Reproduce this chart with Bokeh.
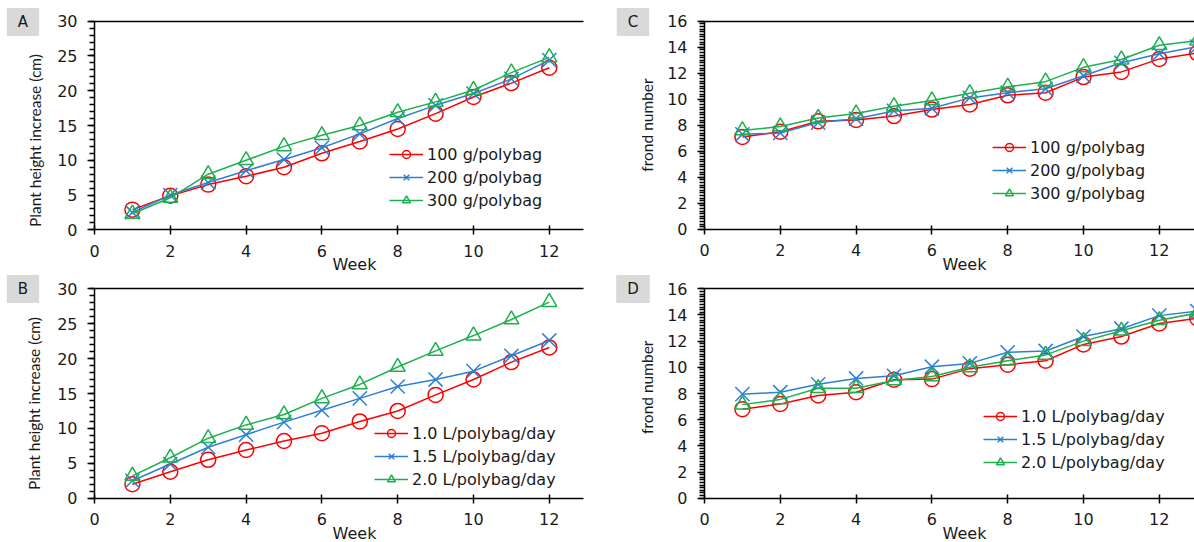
import math
from bokeh.plotting import figure
from bokeh.layouts import column, row
from bokeh.models import (LinearAxis, FixedTicker, Label, Legend, LegendItem, Range1d,
                          ColumnDataSource)
from bokeh.embed import file_html
from bokeh.resources import INLINE

# ---------------- data ----------------
weeks_ab = [1, 2, 3, 4, 5, 6, 7, 8, 9, 10, 11, 12]
weeks_cd = [1, 2, 3, 4, 5, 6, 7, 8, 9, 10, 11, 12, 13]

labels_dose = ["100 g/polybag", "200 g/polybag", "300 g/polybag"]
labels_water = ["1.0 L/polybag/day", "1.5 L/polybag/day", "2.0 L/polybag/day"]

# Panel A: plant height increase (cm) by fertilizer dose
a_100 = [2.9, 4.9, 6.5, 7.7, 9.0, 11.0, 12.7, 14.5, 16.7, 19.1, 21.1, 23.3]
a_200 = [2.5, 5.0, 6.8, 8.5, 10.1, 11.8, 13.8, 16.0, 17.9, 19.6, 21.7, 24.4]
a_300 = [2.3, 4.6, 8.0, 10.0, 12.0, 13.6, 15.0, 16.9, 18.4, 20.1, 22.6, 24.8]

# Panel B: plant height increase (cm) by watering volume
b_10 = [2.0, 3.8, 5.5, 6.9, 8.2, 9.3, 11.0, 12.5, 14.8, 17.0, 19.5, 21.6]
b_15 = [2.5, 4.9, 7.3, 9.1, 10.9, 12.6, 14.3, 16.0, 17.0, 18.2, 20.4, 22.6]
b_20 = [3.2, 5.8, 8.6, 10.5, 12.0, 14.3, 16.3, 18.8, 21.1, 23.3, 25.6, 28.1]

# Panel C: frond number by fertilizer dose
c_100 = [7.1, 7.5, 8.3, 8.4, 8.7, 9.2, 9.6, 10.3, 10.5, 11.7, 12.1, 13.1, 13.55]
c_200 = [7.3, 7.4, 8.2, 8.5, 9.1, 9.3, 10.1, 10.5, 10.8, 11.8, 12.8, 13.5, 14.05]
c_300 = [7.6, 7.9, 8.55, 8.9, 9.45, 9.9, 10.45, 10.95, 11.35, 12.45, 13.05, 14.15, 14.5]

# Panel D: frond number by watering volume
d_10 = [6.8, 7.2, 7.85, 8.1, 9.05, 9.1, 9.9, 10.2, 10.5, 11.75, 12.35, 13.35, 13.75]
d_15 = [7.95, 8.1, 8.7, 9.15, 9.35, 10.05, 10.3, 11.15, 11.25, 12.35, 12.95, 13.95, 14.3]
d_20 = [7.15, 7.55, 8.4, 8.4, 9.0, 9.3, 10.0, 10.5, 10.95, 12.0, 12.8, 13.6, 14.15]

x_ticks = [0, 2, 4, 6, 8, 10, 12]
height_ticks = [0, 5, 10, 15, 20, 25, 30]
frond_ticks = [0, 2, 4, 6, 8, 10, 12, 14, 16]

# ---------------- styles ----------------
COLORS = ["#FF0000", "#2C80D3", "#1DB04E"]
MARKERS = ["circle", "x", "triangle"]
MSIZE = [15, 20, 15]
TICK_FONT = "DejaVu Sans"
TITLE_FONT = "Lato"
TXT = "#1a1a1a"
X_PX = 37.9  # pixels per week


def make_panel(letter, ytitle, ymax, yticks, yminor_step, weeks, series, labels,
               fig_x, fig_y, fig_w, fig_h, x0_px, y0_px, ytop_px, xline_end,
               legend_px, ytitle_px, letter_px, week_px):
    # geometry: positions given in page pixels, converted to figure-local
    lx0 = x0_px - fig_x
    ly0 = y0_px - fig_y
    y_px = (y0_px - ytop_px) / ymax
    x_rng = Range1d(-lx0 / X_PX, (fig_w - lx0) / X_PX)
    y_rng = Range1d(-(fig_h - ly0) / y_px, ly0 / y_px)

    p = figure(width=fig_w, height=fig_h, x_range=x_rng, y_range=y_rng,
               x_axis_type=None, y_axis_type=None,
               output_backend="svg", toolbar_location=None, min_border=0)
    p.outline_line_color = None
    p.background_fill_color = "white"
    p.border_fill_color = "white"

    xax = LinearAxis(fixed_location=0, bounds=(0, xline_end),
                     ticker=FixedTicker(ticks=x_ticks),
                     major_tick_in=4, major_tick_out=5,
                     minor_tick_in=0, minor_tick_out=0,
                     axis_line_width=1.5, major_tick_line_width=1.5,
                     axis_line_color="black", major_tick_line_color="black",
                     major_label_standoff=10,
                     major_label_text_font=TICK_FONT,
                     major_label_text_font_size="16px",
                     major_label_text_color=TXT)
    p.add_layout(xax, "below")

    n_minor = int(round(ymax / yminor_step))
    minors = [round(i * yminor_step, 3) for i in range(n_minor + 1)]
    yax = LinearAxis(fixed_location=0, bounds=(0, ymax),
                     ticker=FixedTicker(ticks=yticks, minor_ticks=minors),
                     major_tick_in=0, major_tick_out=7,
                     minor_tick_in=0, minor_tick_out=5,
                     axis_line_width=1.5, major_tick_line_width=1.5,
                     minor_tick_line_width=1.5,
                     axis_line_color="black", major_tick_line_color="black",
                     minor_tick_line_color="black",
                     major_label_standoff=10,
                     major_label_text_font=TICK_FONT,
                     major_label_text_font_size="16px",
                     major_label_text_color=TXT)
    p.add_layout(yax, "left")

    topax = LinearAxis(fixed_location=ymax, bounds=(0, xline_end),
                       ticker=FixedTicker(ticks=[]), major_tick_out=0, major_tick_in=0,
                       minor_tick_out=0, minor_tick_in=0, major_label_standoff=0,
                       axis_line_width=1.5, axis_line_color="black",
                       major_label_text_font_size="0px")
    p.add_layout(topax, "above")

    items = []
    for vals, lab, col, mk, ms in zip(series, labels, COLORS, MARKERS, MSIZE):
        src = ColumnDataSource(dict(x=weeks, y=vals))
        ln = p.line("x", "y", source=src, line_color=col, line_width=1.5)
        sc = p.scatter("x", "y", source=src, marker=mk, size=ms, line_color=col,
                       fill_color=None, line_width=1.5)
        items.append(LegendItem(label=lab, renderers=[ln, sc]))

    legend = Legend(items=items,
                    location=(legend_px[0] - fig_x, fig_y + fig_h - legend_px[1]),
                    padding=0, margin=0, spacing=3,
                    glyph_width=34, glyph_height=20, label_height=20, label_standoff=4,
                    label_text_font=TICK_FONT, label_text_font_size="16px",
                    label_text_color=TXT,
                    border_line_color=None, background_fill_alpha=0)
    p.add_layout(legend)

    def scr(pt):
        return pt[0] - fig_x, fig_y + fig_h - pt[1]

    tx, ty = scr(ytitle_px)
    p.add_layout(Label(x=tx, y=ty, x_units="screen", y_units="screen",
                       text=ytitle, angle=math.pi / 2, text_align="center",
                       text_baseline="middle", text_font=TITLE_FONT,
                       text_font_size="15.5px", text_color=TXT))
    wx, wy = scr(week_px)
    p.add_layout(Label(x=wx, y=wy, x_units="screen", y_units="screen",
                       text="Week", text_align="center", text_baseline="middle",
                       text_font=TICK_FONT, text_font_size="16px", text_color=TXT))
    lx, ly = scr(letter_px)
    p.add_layout(Label(x=lx, y=ly, x_units="screen", y_units="screen",
                       text=letter, text_align="center", text_baseline="middle",
                       text_font=TICK_FONT, text_font_size="15px", text_color=TXT,
                       background_fill_color="#D9D9D9", padding=(11, 5)))
    return p


pA = make_panel("A", "Plant height increase (cm)", 30, height_ticks, 1, weeks_ab,
                [a_100, a_200, a_300], labels_dose,
                0, 0, 612, 274, 94, 229.3, 20.7, 12.9,
                (389, 210), (34, 140), (22.5, 21.5), (354, 264))
pC = make_panel("C", "frond number", 16, frond_ticks, 0.2, weeks_cd,
                [c_100, c_200, c_300], labels_dose,
                612, 0, 582, 274, 704, 228.7, 20.7, 13.5,
                (992, 203), (646.5, 124.5), (632.5, 21.5), (964, 264))
pB = make_panel("B", "Plant height increase (cm)", 30, height_ticks, 1, weeks_ab,
                [b_10, b_15, b_20], labels_water,
                0, 274, 612, 268, 94, 497.7, 288.3, 12.9,
                (374, 489), (33, 403), (22.5, 288.5), (354, 533))
pD = make_panel("D", "frond number", 16, frond_ticks, 0.2, weeks_cd,
                [d_10, d_15, d_20], labels_water,
                612, 274, 582, 268, 704, 497.7, 288.3, 13.5,
                (983, 472), (646.5, 386.7), (632.5, 288.5), (964, 533))

layout = column(row(pA, pC), row(pB, pD))

with open("out.html", "w") as f:
    f.write(file_html(layout, INLINE))
